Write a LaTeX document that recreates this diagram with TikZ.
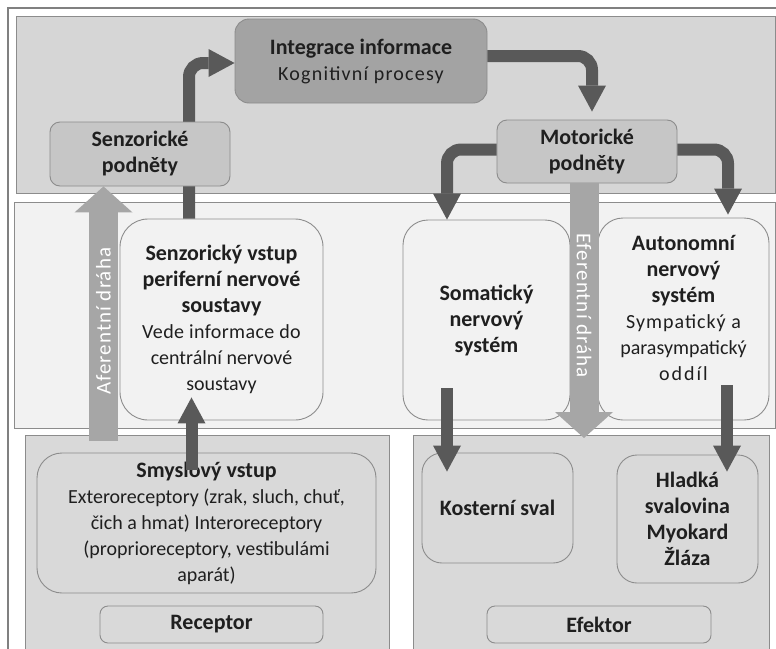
\documentclass[tikz,border=0pt]{standalone}
\usepackage{fontspec}
\setmainfont{Carlito}
\usetikzlibrary{arrows.meta}
\definecolor{bandgray}{HTML}{D6D6D6}
\definecolor{bandlight}{HTML}{F2F2F2}
\definecolor{panelgray}{HTML}{D9D9D9}
\definecolor{boxgray}{HTML}{C6C6C6}
\definecolor{darkbox}{HTML}{A3A3A3}
\definecolor{linegray}{HTML}{8C8C8C}
\definecolor{arrowdark}{HTML}{595959}
\definecolor{arrowlight}{HTML}{A6A6A6}
\definecolor{txt}{HTML}{1F1F1F}
\newcommand{\hd}[1]{{\fontsize{22}{26}\selectfont\bfseries #1}}
\newcommand{\spaced}[2][6]{{\addfontfeature{LetterSpace=#1}#2}}

\begin{document}
\begin{tikzpicture}[x=1pt, y=-1pt,
  box/.style={draw=linegray, line width=0.9pt, rounded corners=#1, align=center, text=txt, inner sep=2pt, font=\fontsize{20}{26}\selectfont},
  box/.default=10pt,
  band/.style={draw=linegray, line width=0.9pt},
  pathlabel/.style={text=white, font=\fontsize{21}{24}\selectfont},
  darrow/.style={draw=arrowdark, line width=12pt, rounded corners=14pt, -{Triangle[width=28pt,length=26pt,line width=0pt]}},
  larrow/.style={draw=arrowlight, line width=29pt, -{Triangle[width=58pt,length=26pt,line width=0pt]}}]
\useasboundingbox (0,0) rectangle (776,648);
% frame and bands
\draw[draw=gray, line width=1.2pt, fill=white] (8,8) rectangle (790,660);
\draw[band, fill=bandgray] (16,16) rectangle (775,193);
\draw[band, fill=bandlight] (14,202) rectangle (775,428);
\draw[band, fill=panelgray] (25,435) rectangle (389,660);
\draw[band, fill=panelgray] (413,435) rectangle (769,660);

\node[box=14pt, fill=darkbox, minimum width=252, minimum height=84] (integ) at (361,61) {\hd{Integrace informace}\\\spaced{Kognitivní procesy}};
  \node[box=28pt, fill=bandlight, minimum width=203, minimum height=201] (senzvstup) at (221.5,319.5) {\hd{Senzorický vstup}\\\hd{periferní nervové}\\\hd{soustavy}\\\spaced[2]{Vede informace do}\\centrální nervové\\soustavy};
% sensor -> integration, runs behind the stimulus box
\draw[darrow] ([xshift=-32.5pt]senzvstup.north) |- ([yshift=-2pt]integ.west);
\node[box=10pt, fill=boxgray, minimum width=180, minimum height=64] (senzpod) at (140,154) {\hd{Senzorické}\\\hd{podněty}};
\node[box=10pt, fill=boxgray, minimum width=180, minimum height=63] (motor) at (587,151.5) {\hd{Motorické}\\\hd{podněty}};

 \node[box=25pt, fill=bandlight, minimum width=167, minimum height=200] (somatic) at (486.5,320) {\hd{Somatický}\\\hd{nervový}\\\hd{systém}};
 \node[box=25pt, fill=bandlight, minimum width=171, minimum height=202] (auto) at (683.5,319) {};
 \node[box=0pt, draw=none] (autotxt) at (683.5,308) {\hd{Autonomní}\\\hd{nervový}\\\hd{systém}\\\spaced[5]{Sympatický a}\\parasympatický\\\spaced[10]{oddíl}};

\node[box=25pt, fill=panelgray, minimum width=339, minimum height=140] (smysl) at (206.5,523) {\hd{Smyslový vstup}\\Exteroreceptory (zrak, sluch, chuť,\\čich a hmat) Interoreceptory\\(proprioreceptory, vestibulámi\\aparát)};
\node[box=8pt, fill=panelgray, minimum width=223, minimum height=37] (receptor) at (211.5,624.5) {\hd{Receptor}};
   \node[box=20pt, fill=panelgray, minimum width=151, minimum height=110] (kost) at (497.5,508) {\hd{Kosterní sval}};
   \node[box=20pt, fill=panelgray, minimum width=141, minimum height=128] (hladka) at (687.5,519) {\hd{Hladká}\\\hd{svalovina}\\\hd{Myokard}\\\hd{Žláza}};
\node[box=8pt, fill=panelgray, minimum width=224, minimum height=37] (efektor) at (599,624.5) {\hd{Efektor}};

\draw[darrow] ([yshift=5pt]integ.east) -| ([xshift=5pt,yshift=8pt]motor.north);
\draw[darrow] ([yshift=2pt]motor.west) -| ([xshift=-39.5pt]somatic.north);
\draw[darrow] ([yshift=2pt]motor.east) -| ([xshift=44.5pt,yshift=3pt]auto.north);
  \draw[darrow] ([xshift=-39.5pt,yshift=32pt]somatic.south) -- ([xshift=-50.5pt,yshift=-19pt]kost.north);
  \draw[darrow] ([xshift=43.5pt,yshift=35pt]auto.south) -- ([xshift=39.5pt,yshift=-17pt]hladka.north);
\draw[darrow] ([xshift=-15pt,yshift=-17pt]smysl.north) -- ([xshift=-30pt,yshift=23pt]senzvstup.south);

% afferent and efferent pathways
\coordinate (afstart) at (103.5,441);
\coordinate (efend) at (584,438);
\draw[larrow] (afstart) -- ([xshift=-36.5pt]senzpod.south) node[pos=0.47, rotate=90, pathlabel] {\spaced[5]{Aferentní dráha}};
\draw[larrow] ([xshift=-3pt]motor.south) -- (efend) node[pos=0.48, rotate=-90, pathlabel] {\spaced[5]{Eferentní dráha}};
\end{tikzpicture}
\end{document}
